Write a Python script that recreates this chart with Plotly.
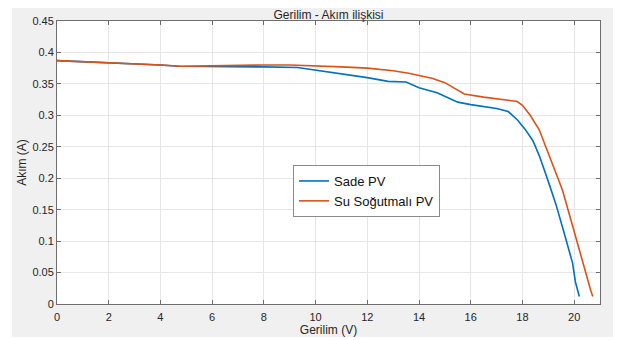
import plotly.graph_objects as go

# Sade PV (plain)
v_sade = [0, 2, 4, 4.7, 6, 8, 9.3, 10, 11, 12, 12.8, 13.5, 14, 14.7, 15.5, 16, 17, 17.45,
          17.8, 18.1, 18.4, 18.65, 19.0, 19.3, 19.6, 19.94, 20.05, 20.2]
i_sade = [0.387, 0.384, 0.380, 0.378, 0.378, 0.377, 0.376, 0.372, 0.366, 0.360, 0.354, 0.353,
          0.344, 0.336, 0.321, 0.317, 0.311, 0.306, 0.293, 0.278, 0.260, 0.236, 0.195, 0.158,
          0.115, 0.065, 0.035, 0.012]

# Su Soğutmalı PV (water cooled)
v_su = [0, 2, 4, 4.8, 6, 8, 9, 10, 11, 12, 13, 13.6, 14.5, 15, 15.75, 16.5, 17.3, 17.8, 18.0,
        18.3, 18.65, 19.0, 19.55, 19.9, 20.3, 20.5, 20.64, 20.72]
i_su = [0.387, 0.384, 0.380, 0.378, 0.379, 0.380, 0.380, 0.379, 0.377, 0.375, 0.371, 0.367,
        0.359, 0.352, 0.334, 0.329, 0.325, 0.322, 0.316, 0.300, 0.277, 0.240, 0.181, 0.130,
        0.070, 0.040, 0.022, 0.012]

x_ticks = [0, 2, 4, 6, 8, 10, 12, 14, 16, 18, 20]
y_ticks = [0, 0.05, 0.1, 0.15, 0.2, 0.25, 0.3, 0.35, 0.4, 0.45]
y_tick_labels = ["0", "0.05", "0.1", "0.15", "0.2", "0.25", "0.3", "0.35", "0.4", "0.45"]

FONT = "Liberation Sans, Arial, Helvetica, sans-serif"
TXT = "#262626"

fig = go.Figure()
fig.add_trace(go.Scatter(x=v_sade, y=i_sade, mode="lines", name="Sade PV",
                         line=dict(color="#0072BD", width=1.6)))
fig.add_trace(go.Scatter(x=v_su, y=i_su, mode="lines", name="Su Soğutmalı PV",
                         line=dict(color="#D95319", width=1.6)))

# page body has an 8px margin, so the figure is offset by 8px
W, H = 613, 332
L, T = 49, 13
pw, ph = 543, 283
R, B = W - L - pw, H - T - ph

axis_common = dict(
    showline=True, linecolor="#6e6e6e", linewidth=1, mirror="ticks",
    ticks="inside", ticklen=4, tickcolor="#6e6e6e",
    showgrid=True, gridcolor="#e6e6e6", gridwidth=1, zeroline=False,
    tickfont=dict(family=FONT, size=11, color=TXT),
)

fig.update_layout(
    width=W, height=H,
    margin=dict(l=L, r=R, t=T, b=B, autoexpand=False),
    paper_bgcolor="#f0f0f0", plot_bgcolor="white",
    title=dict(text="Gerilim - Akım ilişkisi", x=(L + pw / 2) / W, xanchor="center",
               y=1 - 7 / H, yanchor="middle",
               font=dict(family=FONT, size=12, color=TXT)),
    xaxis=dict(range=[0, 21], tickvals=x_ticks, ticklabelstandoff=3,
               title=dict(text="Gerilim (V)", font=dict(family=FONT, size=12, color=TXT), standoff=2),
               **axis_common),
    yaxis=dict(range=[0, 0.45], tickvals=y_ticks, ticktext=y_tick_labels,
               title=dict(text="Akım (A)", font=dict(family=FONT, size=12, color=TXT), standoff=3),
               **axis_common),
    legend=dict(x=(293 - 57) / pw, y=(304 - 165) / ph, xanchor="left", yanchor="top",
                bgcolor="white", bordercolor="#8a8a8a", borderwidth=1,
                font=dict(family=FONT, size=13, color="#111111"),
                itemwidth=30, tracegroupgap=0),
    showlegend=True,
    shapes=[
        dict(type="rect", xref="paper", yref="paper", x0=-L / pw, x1=-(L - 4) / pw,
             y0=-B / ph, y1=(ph + T) / ph, fillcolor="white", line=dict(width=0), layer="below"),
        dict(type="rect", xref="paper", yref="paper", x0=(pw + R - 8) / pw, x1=(pw + R) / pw,
             y0=-B / ph, y1=(ph + T) / ph, fillcolor="white", line=dict(width=0), layer="below"),
        dict(type="rect", xref="paper", yref="paper", x0=-L / pw, x1=(pw + R) / pw,
             y0=-B / ph, y1=-(B - 3) / ph, fillcolor="white", line=dict(width=0), layer="below"),
    ],
)

fig.write_html("out.html")
